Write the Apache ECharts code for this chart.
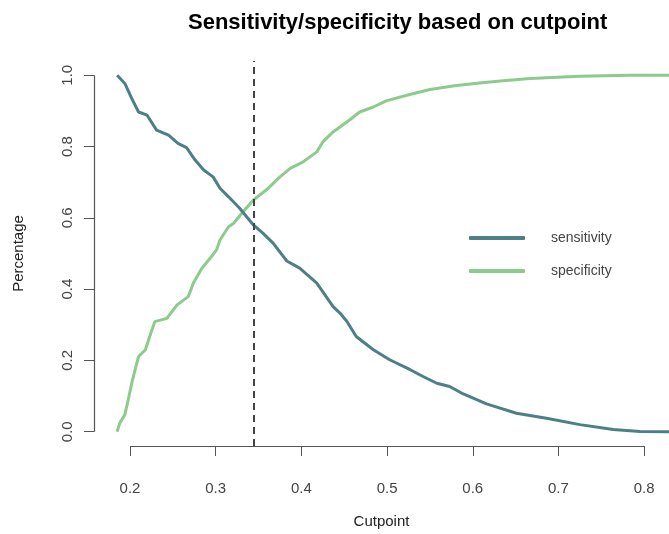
<!DOCTYPE html>
<html>
<head>
<meta charset="utf-8">
<script src="https://cdn.jsdelivr.net/npm/echarts@6/dist/echarts.min.js"></script>
<style>
  html, body { margin: 0; padding: 0; background: #fff; }
  #chart { width: 669px; height: 534px; }
</style>
</head>
<body>
<div id="chart"></div>
<script>
// sensitivity curve (cutpoint, value)
const sensCut = [0.185, 0.194, 0.202, 0.210, 0.220, 0.231, 0.245, 0.256, 0.266, 0.276, 0.286, 0.297,
  0.305, 0.315, 0.328, 0.344, 0.355, 0.367, 0.383, 0.398, 0.418, 0.437, 0.445, 0.453, 0.464, 0.484,
  0.503, 0.527, 0.542, 0.558, 0.573, 0.589, 0.616, 0.651, 0.686, 0.725, 0.764, 0.795, 0.840];
const sensVal = [1.000, 0.977, 0.935, 0.897, 0.888, 0.846, 0.832, 0.809, 0.797, 0.762, 0.734, 0.715,
  0.683, 0.659, 0.627, 0.580, 0.557, 0.529, 0.479, 0.459, 0.417, 0.351, 0.333, 0.310, 0.267, 0.230,
  0.202, 0.174, 0.155, 0.136, 0.127, 0.106, 0.078, 0.052, 0.038, 0.020, 0.006, 0.001, 0.000];

// specificity curve (cutpoint, value)
const specCut = [0.185, 0.188, 0.194, 0.198, 0.202, 0.206, 0.210, 0.218, 0.223, 0.229, 0.243, 0.255,
  0.268, 0.274, 0.284, 0.295, 0.301, 0.305, 0.315, 0.321, 0.332, 0.344, 0.359, 0.375, 0.387, 0.402,
  0.418, 0.425, 0.437, 0.445, 0.457, 0.468, 0.484, 0.499, 0.523, 0.550, 0.581, 0.608, 0.632, 0.667,
  0.725, 0.783, 0.840];
const specVal = [0.000, 0.024, 0.048, 0.090, 0.136, 0.174, 0.211, 0.230, 0.267, 0.309, 0.318, 0.356,
  0.379, 0.417, 0.459, 0.491, 0.510, 0.538, 0.575, 0.585, 0.617, 0.650, 0.678, 0.715, 0.739, 0.757,
  0.785, 0.813, 0.841, 0.855, 0.876, 0.897, 0.911, 0.928, 0.944, 0.960, 0.971, 0.978, 0.984, 0.991,
  0.997, 1.000, 1.000];

const xTicks = [0.2, 0.3, 0.4, 0.5, 0.6, 0.7, 0.8];
const yTicks = [0.0, 0.2, 0.4, 0.6, 0.8, 1.0];
const cutpoint = 0.344;

// plot region limits (R style 4% padding, picture cropped at right)
const xMin = 0.158, xMax = 0.829;
const yMin = -0.04, yMax = 1.04;

const axisColor = "#555";
const textColor = "#444";
const font = "Liberation Sans";

let myChart = echarts.init(document.getElementById("chart"));
let option = {
  animation: false,
  backgroundColor: "#fff",
  title: {
    text: "Sensitivity/specificity based on cutpoint",
    left: 183,
    top: 7,
    textStyle: { fontFamily: font, fontSize: 22, fontWeight: "bold", color: "#000" },
  },
  grid: { left: 94, top: 61, bottom: 87, right: 0 },
  legend: {
    orient: "vertical",
    left: 464,
    top: 226,
    itemWidth: 56,
    itemHeight: 4,
    itemGap: 19,
    icon: "roundRect",
    textStyle: { fontFamily: font, fontSize: 14, color: textColor, padding: [0, 0, 0, 21] },
    data: ["sensitivity", "specificity"],
  },
  xAxis: {
    type: "value",
    min: xMin,
    max: xMax,
    name: "Cutpoint",
    nameLocation: "middle",
    nameGap: 68,
    nameTextStyle: { fontFamily: font, fontSize: 15, color: "#222" },
    axisLine: { show: false, onZero: false },
    splitLine: { show: false },
    axisTick: { show: true, inside: false, length: 10, customValues: xTicks, lineStyle: { color: axisColor } },
    axisLabel: {
      customValues: xTicks,
      margin: 35,
      fontFamily: font,
      fontSize: 15,
      color: textColor,
      formatter: (v) => v.toFixed(1),
    },
  },
  yAxis: {
    type: "value",
    min: yMin,
    max: yMax,
    name: "Percentage",
    nameLocation: "middle",
    nameRotate: 90,
    nameGap: 68,
    nameTextStyle: { fontFamily: font, fontSize: 15, color: "#222" },
    axisLine: { show: false, onZero: false },
    splitLine: { show: false },
    axisTick: { show: true, inside: false, length: 10, customValues: yTicks, lineStyle: { color: axisColor } },
    axisLabel: {
      customValues: yTicks,
      rotate: 90,
      margin: 19,
      fontFamily: font,
      fontSize: 15,
      color: textColor,
      formatter: (v) => v.toFixed(1),
    },
  },
  series: [
    {
      name: "sensitivity",
      type: "line",
      showSymbol: false,
      symbol: "none",
      color: "#4B8087",
      lineStyle: { width: 3, color: "#4B8087" },
      data: sensCut.map((c, i) => [c, sensVal[i]]),
      z: 3,
    },
    {
      name: "specificity",
      type: "line",
      showSymbol: false,
      symbol: "none",
      color: "#8DCB8D",
      lineStyle: { width: 3, color: "#8DCB8D" },
      data: specCut.map((c, i) => [c, specVal[i]]),
      z: 2,
    },
    {
      // R-style axis lines (only across the tick range) and the cutpoint marker
      name: "axes",
      type: "line",
      data: [],
      silent: true,
      markLine: {
        symbol: "none",
        silent: true,
        label: { show: false },
        animation: false,
        data: [
          [
            { coord: [xTicks[0], yMin], lineStyle: { color: axisColor, width: 1.2, type: "solid" } },
            { coord: [xTicks[xTicks.length - 1], yMin] },
          ],
          [
            { coord: [xMin, yTicks[0]], lineStyle: { color: axisColor, width: 1.2, type: "solid" } },
            { coord: [xMin, yTicks[yTicks.length - 1]] },
          ],
          [
            { coord: [cutpoint, yMin], lineStyle: { color: "#444", width: 2, type: [7, 5] } },
            { coord: [cutpoint, yMax] },
          ],
        ],
      },
    },
  ],
};
myChart.setOption(option);
</script>
</body>
</html>
